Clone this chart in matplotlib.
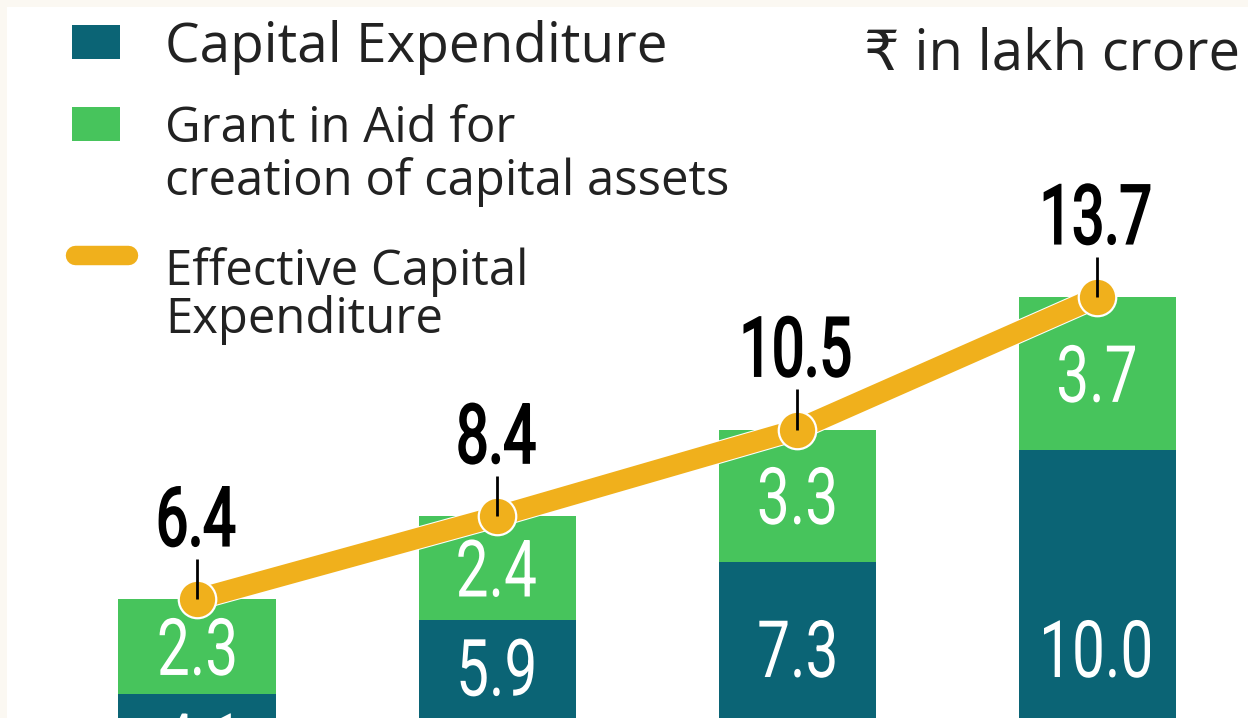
import matplotlib
matplotlib.use("Agg")
import matplotlib.pyplot as plt
import matplotlib.patheffects as pe
from matplotlib.patches import Rectangle, PathPatch
from matplotlib.textpath import TextPath
from matplotlib.font_manager import FontProperties
from matplotlib.transforms import Affine2D
import numpy as np

# values in lakh crore
cap_exp = [4.1, 5.9, 7.3, 10.0]
grant_in_aid = [2.3, 2.4, 3.3, 3.7]
effective = [6.4, 8.4, 10.5, 13.7]

legend_labels = [
    "Capital Expenditure",
    "Grant in Aid for\ncreation of capital assets",
    "Effective Capital\nExpenditure",
]
unit_label = "₹ in lakh crore"

DARK = "#0B6475"
GREEN = "#47C45C"
ORANGE = "#F0B01C"
CREAM = "#FBF8F2"
TXT = "#222222"

W, H = 1248, 718
fig = plt.figure(figsize=(W / 100, H / 100), dpi=100)
fig.patch.set_facecolor(CREAM)
fig.add_artist(Rectangle((7 / W, 0), 1, 1 - 7 / H, transform=fig.transFigure,
                         facecolor="white", edgecolor="none", zorder=-5))

ax = fig.add_axes([0, 0, 1, 1])
ax.set_facecolor("none")
ax.axis("off")
# bar centres 300 px apart, baseline sits below the visible crop
ppu = 41.37
ax.set_xlim(-197 / 300, (W - 197) / 300)
ax.set_ylim((864 - H) / ppu, 864 / ppu)


def cond_text(x, y, s, color, sx=0.74, size=57, vcenter=False, stroke=0):
    """condensed number label: Roboto squeezed horizontally"""
    tp = TextPath((0, 0), s, size=size, prop=FontProperties(family="Roboto"))
    bb = tp.get_extents()
    dy = -(bb.y0 + bb.y1) / 2 if vcenter else 0
    k = fig.dpi / 72
    px, py = ax.transData.transform((x, y))
    tr = Affine2D().translate(-(bb.x0 + bb.x1) / 2, dy).scale(sx * k, k).translate(px, py)
    ax.add_artist(PathPatch(tp, transform=tr, facecolor=color, edgecolor=color,
                            lw=stroke, zorder=6))


x = np.arange(len(cap_exp))
cap_exp = np.array(cap_exp)
effective = np.array(effective)
bw = 157 / 300
ax.bar(x, cap_exp, width=bw, color=DARK, zorder=1)
ax.bar(x, effective - cap_exp, bottom=cap_exp, width=bw, color=GREEN, zorder=1)

ax.plot(x, effective, color=ORANGE, lw=15, solid_capstyle="butt", zorder=3,
        path_effects=[pe.Stroke(linewidth=16.5, foreground="white"), pe.Normal()])
ax.plot(x, effective, "o", ms=27, color=ORANGE, mec="white", mew=1.6, zorder=4)
ax.vlines(x, effective, effective + 0.97, color="black", lw=2, zorder=5)

for xi, c, g, e in zip(x, cap_exp, grant_in_aid, effective):
    cond_text(xi, e + 1.3, f"{e:.1f}", "black", sx=0.70, size=59, stroke=1.6)
    cond_text(xi, (c + e) / 2, f"{g:.1f}", "white", vcenter=True)
    cond_text(xi, min(c - 1.15, 5.2), f"{c:.1f}", "white", vcenter=True)

# legend
fig.add_artist(Rectangle((72 / W, 1 - 59 / H), 48 / W, 34 / H, transform=fig.transFigure,
                         facecolor=DARK, edgecolor="none"))
fig.add_artist(Rectangle((72 / W, 1 - 141 / H), 48 / W, 34 / H, transform=fig.transFigure,
                         facecolor=GREEN, edgecolor="none"))
fig.add_artist(plt.Line2D([75 / W, 128 / W], [1 - 255.5 / H, 1 - 255.5 / H],
                          transform=fig.transFigure, color=ORANGE, lw=14,
                          solid_capstyle="round"))
legend_baselines = [[62], [142, 195], [285, 333]]
legend_sizes = [39.5, 35.3, 35.3]
for lab, ybs, fs in zip(legend_labels, legend_baselines, legend_sizes):
    for line, yb in zip(lab.split("\n"), ybs):
        fig.text(165 / W, 1 - yb / H, line, ha="left", va="baseline", fontsize=fs,
                 family="Open Sans", color=TXT)

fig.text(1240 / W, 1 - 70 / H, unit_label, ha="right", va="baseline", fontsize=40.5,
         family=["Open Sans", "DejaVu Sans"], color=TXT)

fig.savefig("out.png", dpi=100, facecolor=fig.get_facecolor())
